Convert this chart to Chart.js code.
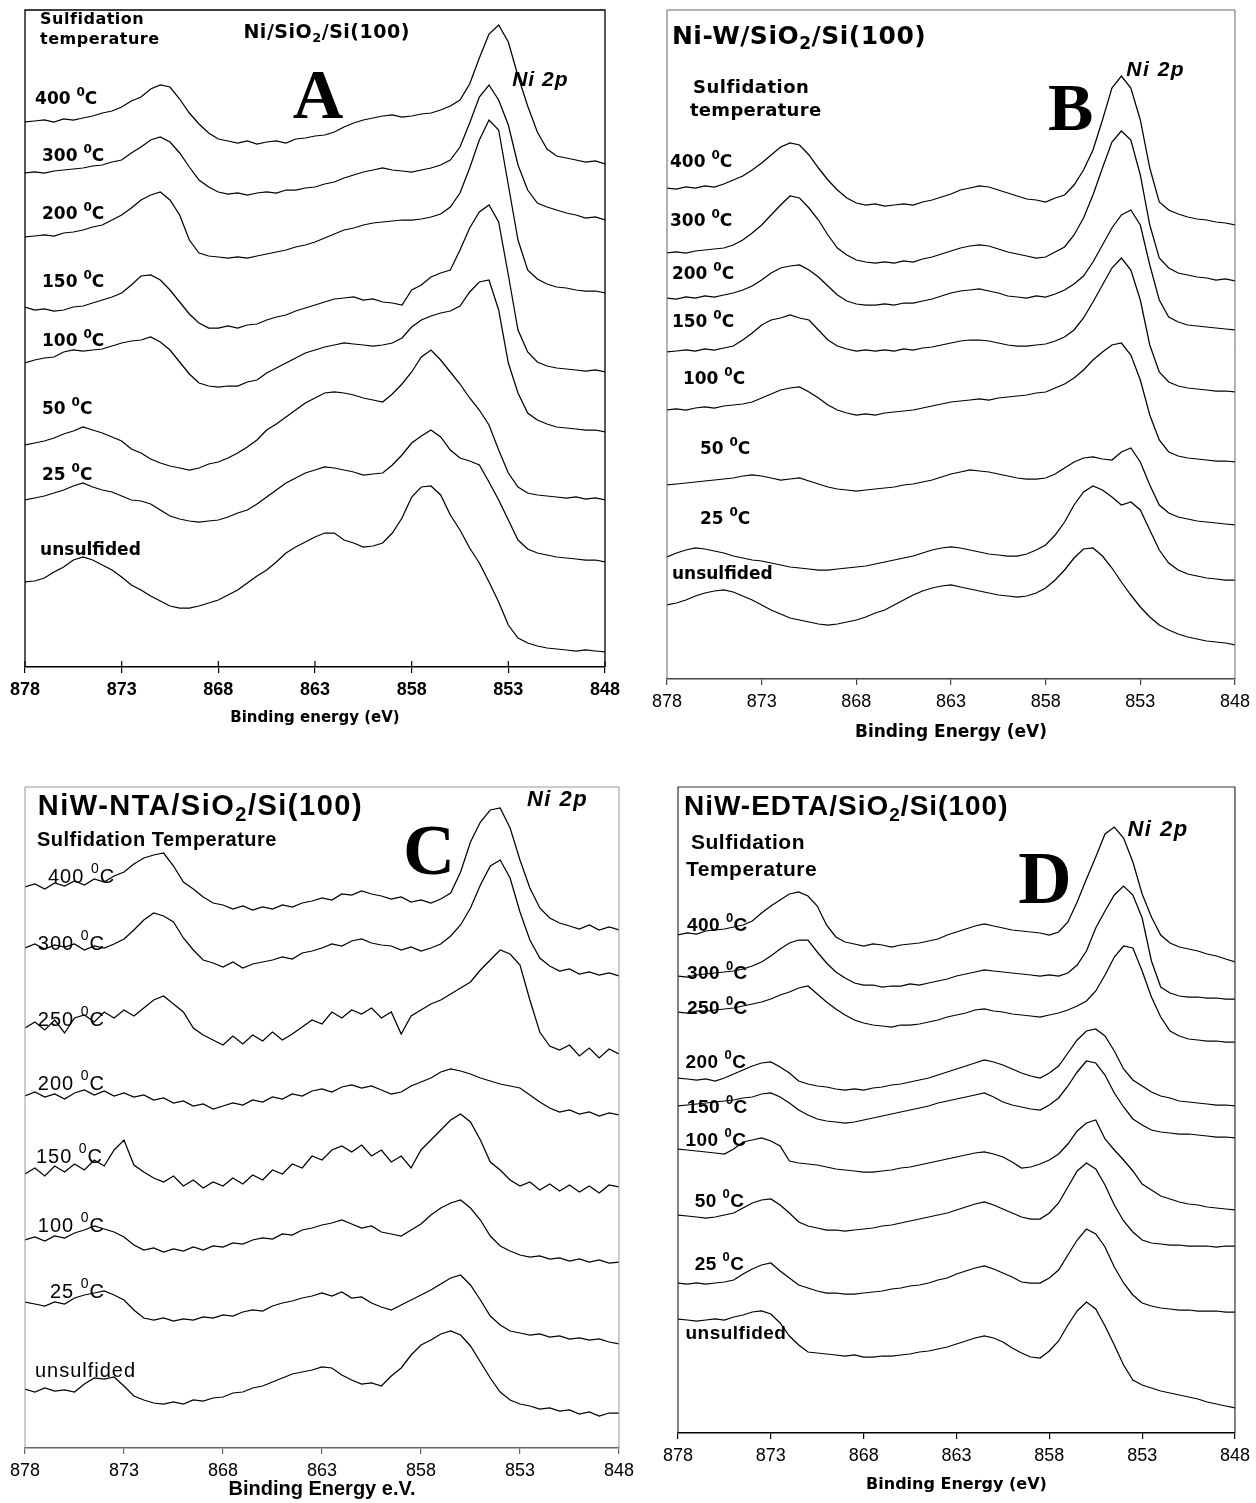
<!DOCTYPE html>
<html>
<head>
<meta charset="utf-8">
<title>Ni 2p XPS - sulfidation series</title>
<script src="https://cdn.jsdelivr.net/npm/chart.js@4.4.1/dist/chart.umd.min.js"></script>
<style>
  html, body { margin: 0; padding: 0; background: #fff; }
  #wrap { position: relative; width: 1256px; height: 1503px; overflow: hidden; }
  canvas { position: absolute; }
</style>
</head>
<body>
<div id="wrap">
  <canvas id="chartA" width="630" height="740" style="left:0;top:0"></canvas>
  <canvas id="chartB" width="626" height="760" style="left:630px;top:0"></canvas>
  <canvas id="chartC" width="640" height="743" style="left:0;top:760px"></canvas>
  <canvas id="chartD" width="616" height="743" style="left:640px;top:760px"></canvas>
</div>
<script>
// binding energy grid (eV), shared by all spectra
const energies = [
  878, 877.5, 877, 876.5, 876, 875.5, 875, 874.5, 874, 873.5,
  873, 872.5, 872, 871.5, 871, 870.5, 870, 869.5, 869, 868.5,
  868, 867.5, 867, 866.5, 866, 865.5, 865, 864.5, 864, 863.5,
  863, 862.5, 862, 861.5, 861, 860.5, 860, 859.5, 859, 858.5,
  858, 857.5, 857, 856.5, 856, 855.5, 855, 854.5, 854, 853.5,
  853, 852.5, 852, 851.5, 851, 850.5, 850, 849.5, 849, 848.5,
  848
];
const tickValues = [878, 873, 868, 863, 858, 853, 848];

// ---- A : Ni/SiO2/Si(100) ----
const tempsA = ['400', '300', '200', '150', '100', '50', '25', 'unsulfided'];
const a400 = [545,546,547,545,548,547,549,551,554,556, 560,566,570,578,582,580,568,554,543,534, 528,526,524,526,523,525,526,524,528,529, 531,532,535,540,544,547,549,551,552,550, 551,553,554,557,561,567,583,609,633,642, 625,591,561,535,518,511,509,507,505,506, 503];
const a300 = [494,495,494,496,497,498,499,501,502,505, 507,514,520,527,530,525,514,500,487,480, 475,473,474,472,474,475,474,477,477,479, 480,483,485,489,492,495,497,499,497,496, 495,497,499,502,507,520,544,570,582,567, 542,502,477,464,460,457,454,452,449,450, 447];
const a200 = [430,431,432,431,434,435,437,440,442,447, 452,459,467,472,475,467,452,427,414,411, 410,409,410,409,411,413,415,417,420,422, 425,429,433,437,439,442,444,445,446,447, 447,448,450,453,460,474,499,527,547,537, 482,427,397,388,383,380,379,377,376,376, 374];
const a150 = [360,357,358,356,357,360,361,364,367,370, 374,382,391,392,387,377,365,353,344,339, 339,341,339,342,343,347,350,352,356,359, 362,365,368,369,370,367,368,365,364,362, 377,382,390,394,397,417,439,455,462,445, 392,337,315,305,301,299,298,297,296,297, 295];
const a100 = [304,307,309,310,315,317,316,317,318,321, 324,326,327,330,325,317,305,293,284,281, 280,281,281,285,287,294,299,304,309,314, 317,320,322,324,323,322,321,322,324,329, 340,347,351,354,356,361,375,385,387,357, 304,274,254,247,243,240,239,238,237,237, 235];
const a50 = [222,224,226,229,233,236,240,237,234,230, 226,218,214,208,204,201,199,197,199,203, 205,209,214,220,227,237,243,250,257,264, 269,274,275,274,272,269,267,265,273,283, 295,310,317,307,295,283,269,257,242,217, 194,180,174,172,171,170,169,170,168,169, 167];
const a25 = [167,169,171,174,177,181,184,180,177,175, 171,167,166,163,157,151,148,146,145,146, 147,150,154,157,163,170,177,184,189,194, 197,200,199,197,195,192,193,194,202,212, 224,231,237,230,217,209,206,202,185,167, 147,127,118,114,112,110,109,108,107,107, 105];
const aUns = [85,86,89,95,100,107,110,107,102,97, 90,82,77,71,66,61,59,59,61,64, 67,72,77,84,91,97,105,114,120,125, 130,134,134,127,124,120,121,124,134,149, 170,180,181,172,152,137,119,104,85,65, 42,29,24,21,19,18,17,16,17,16, 15];

// ---- B : Ni-W/SiO2/Si(100) ----
const tempsB = ['400', '300', '200', '150', '100', '50', '25', 'unsulfided'];
const b400 = [491,490,492,491,493,492,495,499,503,509, 516,524,532,536,534,524,511,499,489,481, 476,474,475,473,474,475,474,477,479,482, 485,489,491,493,492,489,486,483,480,479, 477,481,484,494,509,529,559,591,603,591, 559,511,477,469,465,462,460,459,457,456, 454];
const b300 = [426,427,426,428,429,430,431,434,439,446, 454,464,474,483,481,471,459,444,431,424, 419,417,416,417,416,418,417,420,422,425, 428,431,433,434,433,430,427,425,423,421, 422,427,432,444,461,484,511,537,548,539, 504,454,421,411,406,404,402,401,399,400, 398];
const b200 = [381,380,382,381,383,382,384,386,389,393, 399,406,411,413,414,409,402,393,384,378, 375,374,374,375,374,376,376,378,380,383, 386,388,389,390,388,386,383,382,381,383, 382,385,389,395,403,417,434,451,464,469, 454,414,379,362,357,354,353,352,351,350, 349];
const b150 = [327,328,329,328,330,329,331,333,339,346, 354,359,361,364,361,359,349,339,333,330, 328,329,328,329,328,330,329,331,332,334, 336,338,339,339,338,336,334,333,333,334, 335,338,342,349,361,377,394,411,421,409, 379,334,307,297,293,291,290,289,288,288, 287];
const b100 = [269,270,269,271,272,271,273,274,275,277, 281,285,289,291,292,287,281,274,269,266, 264,265,264,266,267,268,269,271,273,275, 277,278,279,280,279,281,282,283,284,286, 287,291,295,301,309,319,327,334,336,324, 299,264,239,227,223,221,220,219,218,218, 217];
const b50 = [194,195,196,197,198,199,200,201,203,204, 203,201,199,200,201,198,195,192,190,189, 188,189,190,191,192,194,195,197,199,202, 205,207,209,208,207,205,203,201,200,200, 201,205,211,217,221,222,220,219,227,231, 217,194,174,166,162,160,158,157,156,155, 154];
const b25 = [122,126,129,131,130,128,126,123,121,119, 118,116,114,112,111,110,109,109,110,111, 112,113,115,117,119,121,123,126,129,131, 132,131,129,127,125,124,123,123,125,129, 134,144,157,174,187,193,189,182,174,177, 169,149,129,116,109,105,103,101,100,99, 99];
const bUns = [74,76,79,83,86,88,89,87,83,79, 74,69,65,61,59,57,55,54,55,57, 59,62,66,69,74,79,84,88,91,93, 94,92,90,88,86,84,83,82,83,86, 91,99,109,121,130,131,123,111,97,84, 72,62,54,49,45,42,40,38,37,36, 34];

// ---- C : NiW-NTA/SiO2/Si(100) ----
const tempsC = ['400', '300', '250', '200', '150', '100', '25', 'unsulfided'];
const c400 = [561,564,559,565,562,567,563,569,566,572, 576,584,590,593,595,582,566,559,551,545, 543,539,542,538,541,539,543,541,545,547, 550,548,554,553,557,554,552,549,551,546, 548,545,549,555,576,606,626,638,640,620, 588,560,540,530,525,522,519,523,518,521, 518];
const c300 = [500,504,499,503,501,504,498,502,500,504, 509,518,528,535,532,526,510,498,488,485, 481,486,480,484,486,488,491,489,495,497, 500,504,502,507,509,505,503,502,498,501, 497,500,504,512,523,540,563,582,588,570, 536,508,490,482,477,479,474,476,473,475, 472];
const c250 = [420,426,418,428,415,430,433,426,436,430, 438,432,440,448,452,444,436,420,413,408, 403,412,404,413,407,416,408,414,421,428, 424,436,430,438,434,440,430,436,414,432, 438,444,448,454,460,466,478,488,498,494, 483,448,416,402,398,403,392,400,390,399, 394];
const c200 = [352,356,351,354,349,355,358,353,357,352, 355,351,353,348,350,345,347,342,344,339, 342,345,343,348,346,351,349,354,352,357, 359,356,361,363,360,362,358,354,356,362, 366,370,376,379,377,374,370,367,364,362, 360,353,346,340,336,338,334,336,332,335, 333];
const c150 = [274,280,272,282,276,284,278,288,282,298, 308,283,276,270,266,272,262,268,260,266, 262,270,264,273,268,278,274,284,280,292, 288,298,302,296,303,292,298,286,292,280, 298,308,318,328,334,326,308,286,278,268, 262,266,258,264,257,263,256,262,255,263, 261];
const c100 = [208,211,207,212,210,215,218,222,219,216, 211,203,198,200,196,199,197,201,198,202, 201,205,204,208,210,209,214,213,218,220, 223,225,228,224,220,222,216,214,212,218, 224,233,240,245,248,240,228,212,202,197, 193,191,192,189,190,187,189,186,188,185, 186];
const c25 = [146,144,142,146,144,150,153,155,157,153, 148,138,130,128,130,127,129,128,131,130, 133,132,136,138,137,142,145,147,150,152, 155,152,156,150,151,145,141,138,143,148, 153,158,164,170,173,163,148,132,123,117, 115,113,114,111,112,109,110,108,109,106, 104];
const cUns = [59,56,60,57,58,56,64,70,69,71, 62,52,48,45,44,46,44,48,47,50, 51,55,56,60,62,66,70,74,76,78, 81,80,73,68,64,65,62,72,80,93, 103,108,114,117,113,102,86,70,56,48, 44,42,39,40,37,38,34,36,32,35, 35];

// ---- D : NiW-EDTA/SiO2/Si(100) ----
const tempsD = ['400', '300', '250', '200', '150', '100', '50', '25', 'unsulfided'];
const d400 = [498,500,499,502,503,504,506,508,512,520, 527,533,539,541,537,527,508,496,491,489, 487,489,488,486,488,489,490,492,494,498, 501,504,507,509,507,505,503,502,501,500, 498,501,511,531,554,576,599,606,595,571, 539,516,498,490,486,484,482,479,477,474, 471];
const d300 = [457,456,458,459,460,461,462,464,467,471, 477,484,490,493,493,481,470,461,455,450, 448,448,446,447,447,449,448,450,452,454, 457,459,461,463,462,461,460,459,458,457, 458,457,460,468,482,505,522,538,547,538, 515,472,446,440,437,436,436,435,435,434, 434];
const d250 = [421,420,422,422,423,424,425,427,429,431, 434,438,441,445,447,439,431,424,418,413, 410,408,407,406,408,408,409,411,413,416, 418,420,423,424,422,421,419,418,417,416, 418,420,423,427,432,442,458,476,487,485, 462,436,416,402,397,394,393,392,392,391, 391];
const d200 = [355,354,353,354,352,355,359,363,367,370, 371,366,360,352,349,347,346,344,343,344, 343,345,346,348,349,351,353,355,358,361, 364,367,370,373,371,368,364,360,357,355, 360,367,380,393,402,404,397,382,364,353, 347,341,337,335,332,331,330,329,328,328, 327];
const d150 = [327,328,329,330,331,332,333,335,336,339, 340,336,330,323,318,314,312,311,310,311, 313,315,317,319,321,323,325,327,330,332, 334,336,338,340,336,331,328,326,324,323, 328,335,347,361,372,370,358,340,326,314, 308,303,301,300,299,299,298,297,296,296, 295];
const d100 = [284,283,282,281,280,279,284,291,293,295, 292,287,272,270,269,268,266,264,263,262, 261,261,262,263,265,266,268,270,272,274, 276,278,280,281,279,276,271,265,266,269, 273,279,289,302,310,313,294,283,273,262, 249,243,237,234,231,229,228,226,225,224, 223];
const d50 = [218,217,216,215,216,218,220,225,230,233, 234,228,220,211,207,205,203,203,202,203, 204,205,207,208,210,212,214,216,218,220, 223,226,229,231,228,224,220,216,214,214, 220,230,246,262,270,264,248,228,212,201, 193,190,189,188,188,187,187,187,186,187, 187];
const d25 = [150,149,150,149,150,151,153,159,164,168, 170,162,155,148,145,142,140,140,139,139, 140,141,142,144,145,147,148,150,153,155, 159,162,165,167,164,160,156,151,150,150, 155,163,178,193,204,199,186,166,150,138, 130,127,125,124,123,123,122,122,122,121, 121];
const dUns = [114,113,112,113,114,113,116,118,121,122, 119,110,97,88,81,80,79,78,77,78, 76,76,77,77,78,79,81,82,84,86, 89,92,95,97,95,91,85,80,76,75, 82,92,108,122,131,124,107,88,68,53, 48,45,42,40,38,36,34,31,29,27, 25];

const SANS = '"Liberation Sans", Arial, sans-serif';
const DEJA = '"DejaVu Sans", Verdana, sans-serif';
const SERIF = '"Liberation Serif", "Times New Roman", serif';

// text with {^x} superscript and {_x} subscript parts
function drawRich(ctx, str, x, y, font, align, spacing) {
  const size = +font.match(/(\d+)px/)[1];
  const small = font.replace(/\d+px/, Math.round(size * 0.68) + 'px');
  const parts = [];
  str.split(/(\{[\^_][^}]*\})/).forEach(seg => {
    if (!seg) return;
    const r = seg.match(/^\{([\^_])(.*)\}$/);
    parts.push(r ? { t: r[2], kind: r[1] } : { t: seg, kind: '' });
  });
  ctx.letterSpacing = (spacing || 0) + 'px';
  let w = 0;
  parts.forEach(p => { ctx.font = p.kind ? small : font; p.w = ctx.measureText(p.t).width; w += p.w; });
  let cx = align === 'center' ? x - w / 2 : x;
  ctx.textBaseline = 'middle';
  ctx.textAlign = 'left';
  ctx.fillStyle = '#000';
  parts.forEach(p => {
    ctx.font = p.kind ? small : font;
    const dy = p.kind === '^' ? -size * 0.4 : (p.kind === '_' ? size * 0.3 : 0);
    ctx.fillText(p.t, cx, y + dy);
    cx += p.w;
  });
  ctx.letterSpacing = '0px';
}

const tempText = t => (t === 'unsulfided' ? t : t + ' {^0}C');

const panelDecor = {
  id: 'panelDecor',
  afterDraw(chart, args, opts) {
    const { ctx, chartArea: a, scales: { x, y } } = chart;
    ctx.save();
    ctx.strokeStyle = opts.frameColor;
    ctx.lineWidth = opts.frameWidth;
    ctx.beginPath();
    ctx.moveTo(a.left, a.bottom);
    ctx.lineTo(a.left, a.top);
    ctx.lineTo(a.right, a.top);
    ctx.lineTo(a.right, a.bottom);
    ctx.stroke();
    // short inner tick marks (A only)
    if (opts.innerTicks) {
      ctx.strokeStyle = '#000';
      ctx.lineWidth = 1.2;
      tickValues.forEach(v => {
        const px = x.getPixelForValue(v);
        ctx.beginPath();
        ctx.moveTo(px, a.bottom);
        ctx.lineTo(px, a.bottom - opts.innerTicks);
        ctx.stroke();
      });
    }
    opts.texts.forEach(t => {
      drawRich(ctx, t.s, x.getPixelForValue(t.e), y.getPixelForValue(t.v), t.font, t.align, t.ls);
    });
    opts.temps.forEach((t, i) => {
      const p = opts.tempPos[i];
      drawRich(ctx, tempText(t), x.getPixelForValue(p[0]), y.getPixelForValue(p[1]), opts.tempFont, 'left', opts.tempLs);
    });
    ctx.restore();
  }
};

function buildPanel(id, p) {
  const datasets = p.series.map(vals => ({
    data: vals.map((v, i) => ({ x: energies[i], y: v })),
    borderColor: '#000',
    borderWidth: 1.25,
    pointRadius: 0,
    fill: false,
    tension: 0
  }));
  return new Chart(document.getElementById(id), {
    type: 'line',
    data: { datasets },
    options: {
      responsive: false,
      animation: false,
      devicePixelRatio: 1,
      layout: { padding: p.padding },
      plugins: {
        legend: { display: false },
        tooltip: { enabled: false },
        panelDecor: p.decor
      },
      scales: {
        x: {
          type: 'linear',
          reverse: true,
          min: 848,
          max: 878,
          afterBuildTicks: s => { s.ticks = tickValues.map(v => ({ value: v })); },
          afterFit: s => { s.height = p.axisHeight; },
          ticks: { color: '#000', font: p.tickFont, padding: 6, maxRotation: 0, autoSkip: false },
          grid: { drawOnChartArea: false, drawTicks: true, tickLength: 6, color: p.axisColor, lineWidth: 1.2 },
          border: { display: true, color: p.axisColor, width: 1.5 },
          title: {
            display: true, text: p.xTitle, color: '#000', font: p.titleFont,
            padding: { top: 0, bottom: p.titlePad }
          }
        },
        y: { display: false, min: 0, max: p.yMax }
      }
    },
    plugins: [panelDecor]
  });
}

// A
buildPanel('chartA', {
  series: [a400, a300, a200, a150, a100, a50, a25, aUns],
  padding: { left: 25, right: 25, top: 10, bottom: 0 },
  axisHeight: 73, yMax: 657, axisColor: '#000',
  tickFont: { family: SANS, size: 18, weight: 'bold' },
  xTitle: 'Binding energy (eV)', titleFont: { family: DEJA, size: 15, weight: 'bold' }, titlePad: 13,
  decor: {
    frameColor: '#000', frameWidth: 1.3, innerTicks: 6,
    texts: [
      { s: 'Sulfidation', e: 877.22, v: 647, font: 'bold 16px ' + DEJA, ls: 0.5 },
      { s: 'temperature', e: 877.22, v: 627, font: 'bold 16px ' + DEJA, ls: 0.5 },
      { s: 'Ni/SiO{_2}/Si(100)', e: 866.7, v: 634, font: 'bold 19px ' + DEJA, ls: 0.5 },
      { s: 'A', e: 862.84, v: 567, font: 'bold 70px ' + SERIF, align: 'center' },
      { s: 'Ni 2p', e: 852.8, v: 587, font: 'italic bold 21px ' + SANS, ls: 1 }
    ],
    temps: tempsA,
    tempPos: [[877.48, 567], [877.12, 510], [877.12, 452], [877.12, 384], [877.12, 325], [877.12, 257], [877.12, 191], [877.22, 116]],
    tempFont: 'bold 17px ' + DEJA, tempLs: 0
  }
});

// B
buildPanel('chartB', {
  series: [b400, b300, b200, b150, b100, b50, b25, bUns],
  padding: { left: 37, right: 19, top: 10, bottom: 0 },
  axisHeight: 81, yMax: 669, axisColor: '#444',
  tickFont: { family: SANS, size: 18 },
  xTitle: 'Binding Energy (eV)', titleFont: { family: DEJA, size: 17, weight: 'bold' }, titlePad: 17,
  decor: {
    frameColor: '#666', frameWidth: 1,
    texts: [
      { s: 'Ni-W/SiO{_2}/Si(100)', e: 877.74, v: 642, font: 'bold 25px ' + DEJA, ls: 0.5 },
      { s: 'Sulfidation', e: 876.63, v: 591, font: 'bold 18px ' + DEJA, ls: 0.5 },
      { s: 'temperature', e: 876.79, v: 568, font: 'bold 18px ' + DEJA, ls: 0.3 },
      { s: 'B', e: 856.68, v: 567, font: 'bold 68px ' + SERIF, align: 'center' },
      { s: 'Ni 2p', e: 853.74, v: 609, font: 'italic bold 21px ' + SANS, ls: 1.5 }
    ],
    temps: tempsB,
    tempPos: [[877.84, 516], [877.84, 457], [877.74, 404], [877.74, 356], [877.16, 299], [876.26, 229], [876.26, 159], [877.74, 104]],
    tempFont: 'bold 17px ' + DEJA, tempLs: 0
  }
});

// C
buildPanel('chartC', {
  series: [c400, c300, c250, c200, c150, c100, c25, cUns],
  padding: { left: 25, right: 19, top: 27, bottom: 0 },
  axisHeight: 55, yMax: 661, axisColor: '#666',
  tickFont: { family: SANS, size: 18 },
  xTitle: 'Binding Energy e.V.', titleFont: { family: SANS, size: 20, weight: 'bold' }, titlePad: 2,
  decor: {
    frameColor: '#999', frameWidth: 1,
    texts: [
      { s: 'NiW-NTA/SiO{_2}/Si(100)', e: 877.35, v: 641, font: 'bold 29px ' + SANS, ls: 1.5 },
      { s: 'Sulfidation Temperature', e: 877.4, v: 608, font: 'bold 20px ' + SANS, ls: 0.5 },
      { s: 'C', e: 857.6, v: 593, font: 'bold 72px ' + SERIF, align: 'center' },
      { s: 'Ni 2p', e: 852.65, v: 648, font: 'italic bold 22px ' + SANS, ls: 1.5 }
    ],
    temps: tempsC,
    tempPos: [[876.84, 571], [877.35, 504], [877.35, 428], [877.35, 364], [877.45, 291], [877.35, 222], [876.74, 156], [877.5, 77]],
    tempFont: '20px ' + SANS, tempLs: 1
  }
});

// D
buildPanel('chartD', {
  series: [d400, d300, d250, d200, d150, d100, d50, d25, dUns],
  padding: { left: 38, right: 18, top: 27, bottom: 0 },
  axisHeight: 70, yMax: 646, axisColor: '#000',
  tickFont: { family: SANS, size: 18 },
  xTitle: 'Binding Energy (eV)', titleFont: { family: DEJA, size: 16, weight: 'bold' }, titlePad: 9,
  decor: {
    frameColor: '#333', frameWidth: 1.2,
    texts: [
      { s: 'NiW-EDTA/SiO{_2}/Si(100)', e: 877.68, v: 626, font: 'bold 28px ' + SANS, ls: 1 },
      { s: 'Sulfidation', e: 877.3, v: 590, font: 'bold 21px ' + SANS, ls: 0.5 },
      { s: 'Temperature', e: 877.57, v: 563, font: 'bold 21px ' + SANS, ls: 0.5 },
      { s: 'D', e: 858.24, v: 549, font: 'bold 74px ' + SERIF, align: 'center' },
      { s: 'Ni 2p', e: 853.79, v: 603, font: 'italic bold 22px ' + SANS, ls: 1.5 }
    ],
    temps: tempsD,
    tempPos: [[877.52, 507], [877.52, 459], [877.52, 424], [877.6, 370], [877.52, 325], [877.6, 292], [877.1, 231], [877.1, 168], [877.6, 99]],
    tempFont: 'bold 19px ' + SANS, tempLs: 0.5
  }
});
</script>
</body>
</html>
